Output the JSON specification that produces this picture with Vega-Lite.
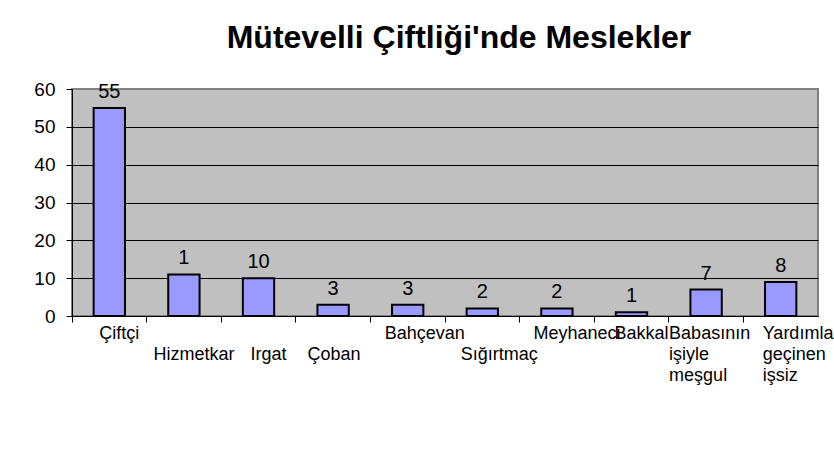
{
  "$schema": "https://vega.github.io/schema/vega-lite/v6.json",
  "width": 746,
  "height": 227,
  "autosize": {"type": "none"},
  "padding": {"left": 72, "top": 89, "right": 16, "bottom": 148},
  "background": "white",
  "title": {
    "text": "Mütevelli Çiftliği'nde Meslekler",
    "font": "Liberation Sans",
    "fontSize": 32,
    "fontWeight": "bold",
    "color": "#000000",
    "frame": "group",
    "anchor": "middle",
    "baseline": "alphabetic",
    "offset": 40,
    "dx": 14,
    "dy": 40
  },
  "data": {
    "values": [
      {"meslek": "Çiftçi", "sayi": 55, "etiket": "55"},
      {"meslek": "Hizmetkar", "sayi": 11, "etiket": "1"},
      {"meslek": "Irgat", "sayi": 10, "etiket": "10"},
      {"meslek": "Çoban", "sayi": 3, "etiket": "3"},
      {"meslek": "Bahçevan", "sayi": 3, "etiket": "3"},
      {"meslek": "Sığırtmaç", "sayi": 2, "etiket": "2"},
      {"meslek": "Meyhaneci", "sayi": 2, "etiket": "2"},
      {"meslek": "Bakkal", "sayi": 1, "etiket": "1"},
      {"meslek": "Babasının işiyle meşgul", "sayi": 7, "etiket": "7"},
      {"meslek": "Yardımla geçinen işsiz", "sayi": 9, "etiket": "8"}
    ]
  },
  "config": {
    "view": {"fill": "#C0C0C0", "stroke": "#808080", "strokeWidth": 2},
    "font": "Liberation Sans"
  },
  "encoding": {
    "x": {
      "field": "meslek",
      "type": "nominal",
      "sort": null,
      "scale": {"paddingInner": 0, "paddingOuter": 0},
      "axis": {
        "title": null,
        "bandPosition": 0,
        "labelOffset": {
          "condition": [
            {"test": "datum.value == 'Babasının işiyle meşgul'", "value": -37},
            {"test": "datum.value == 'Yardımla geçinen işsiz'", "value": -18},
            {"test": "datum.value == 'Meyhaneci'", "value": 20},
            {"test": "datum.value == 'Bahçevan' || datum.value == 'Sığırtmaç'", "value": 17},
            {"test": "datum.value == 'Çoban'", "value": 1}
          ],
          "value": 10
        },
        "labelAlign": {
          "condition": {"test": "indexof(datum.value, ' ') > 0", "value": "left"},
          "value": "center"
        },
        "tickSize": 6,
        "tickColor": "#000000",
        "domainColor": "#000000",
        "grid": false,
        "labelAngle": 0,
        "labelFont": "Liberation Sans",
        "labelFontSize": 18,
        "labelColor": "#000000",
        "labelPadding": 2,
        "labelLineHeight": 21,
        "labelBaseline": "top",
        "labelOverlap": false,
        "labelLimit": 0,
        "labelExpr": "indexof(['Hizmetkar','Irgat','Çoban','Sığırtmaç'], datum.value) >= 0 ? ['', datum.value] : (indexof(datum.value, ' ') > 0 ? split(datum.value, ' ') : datum.value)"
      }
    },
    "y": {
      "field": "sayi",
      "type": "quantitative",
      "scale": {"domain": [0, 60]},
      "axis": {
        "title": null,
        "values": [0, 10, 20, 30, 40, 50, 60],
        "grid": true,
        "gridColor": {"condition": {"test": "datum.value >= 60", "value": "#808080"}, "value": "#000000"},
        "gridOpacity": 1,
        "domainColor": "#000000",
        "tickColor": "#000000",
        "tickSize": 6,
        "labelFont": "Liberation Sans",
        "labelFontSize": 19,
        "labelPadding": 11,
        "labelColor": "#000000"
      }
    }
  },
  "layer": [
    {
      "mark": {"type": "bar", "fill": "#9999FF", "stroke": "#000000", "strokeWidth": 2, "width": {"band": 0.42}}
    },
    {
      "mark": {"type": "text", "fontSize": 20, "dy": -10, "baseline": "alphabetic", "color": "#000000", "font": "Liberation Sans"},
      "encoding": {"text": {"field": "etiket"}}
    }
  ]
}
